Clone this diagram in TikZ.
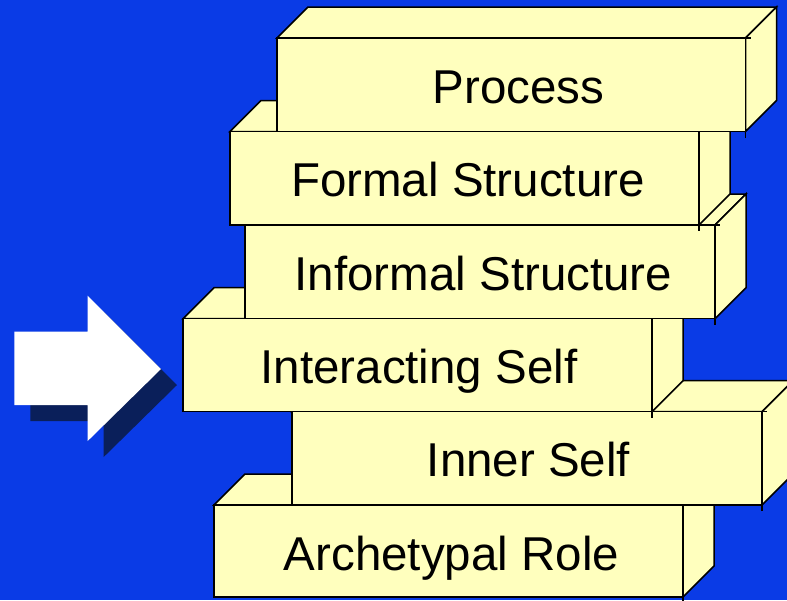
\documentclass[tikz,border=0pt]{standalone}
\usepackage{fontspec}
\setmainfont{Liberation Sans}
\definecolor{bgblue}{RGB}{10,59,230}
\definecolor{boxyellow}{RGB}{255,255,190}
\definecolor{shadownavy}{RGB}{10,31,90}
\newcommand\stackbox[4]{%
  \filldraw[boxline] (#1,#2) -- ({#1+31},{#2-31}) -- ({#3+31},{#2-31}) -- (#3,#2) -- cycle;
  \filldraw[boxline] (#3,#2) -- ({#3+31},{#2-31}) -- ({#3+31},{#4-31}) -- (#3,#4) -- cycle;
  \filldraw[boxline] (#1,#2) rectangle (#3,#4);
  \draw[boxline] (#3,#4) -- (#3,{#4+6});
  \draw[boxline] (#3,#2) -- ({#3+5},#2);
}
\begin{document}
\begin{tikzpicture}[x=1pt,y=-1pt,
  boxline/.style={fill=boxyellow,draw=black,line width=1.5pt,line join=miter},
  lbl/.style={anchor=base,inner sep=0pt,font=\fontsize{47.5}{57}\selectfont}]
\clip (0,0) rectangle (787,600);
\fill[bgblue] (0,0) rectangle (787,600);
% arrow with shadow
\fill[shadownavy,shift={(16,16)}] (14.3,331.7) -- (87.7,331.7) -- (87.7,295.7) -- (161,369) -- (87.7,441) -- (87.7,405) -- (14.3,405) -- cycle;
\fill[white] (14.3,331.7) -- (87.7,331.7) -- (87.7,295.7) -- (161,369) -- (87.7,441) -- (87.7,405) -- (14.3,405) -- cycle;
% boxes, bottom to top
\stackbox{214}{505}{683}{597}
\node[lbl] (arch) at (451.5,570) {Archetypal Role};
\stackbox{292}{411.7}{762}{505}
\node[lbl] (inner) at (528.5,476.7) {Inner Self};
\stackbox{183}{318.7}{652}{411.7}
\node[lbl] (inter) at (419,383.5) {Interacting Self};
\stackbox{245}{225}{715}{318.7}
\node[lbl] (informal) at (483.5,290) {Informal Structure};
\stackbox{230}{131.5}{699}{225}
\node[lbl] (formal) at (468,196.7) {Formal Structure};
\stackbox{277}{38}{745.5}{131.5}
\node[lbl] (process) at (518.5,103.3) {Process};
\end{tikzpicture}
\end{document}
